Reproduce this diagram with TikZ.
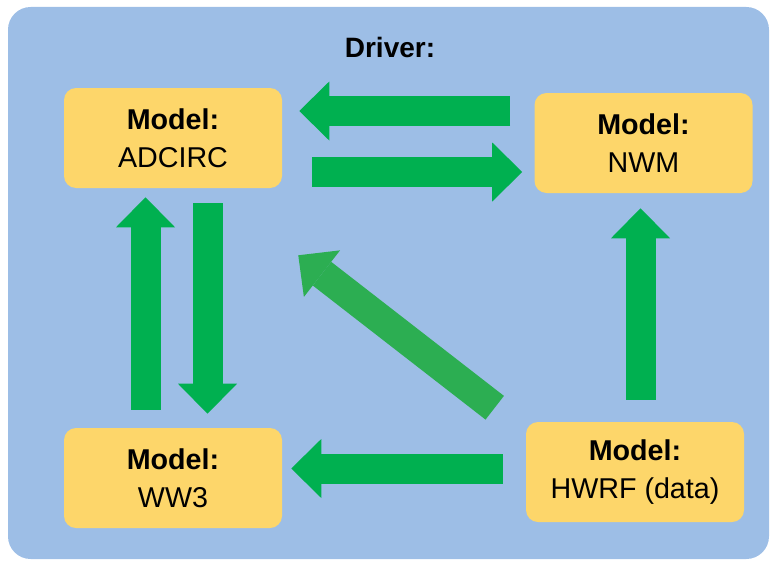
\documentclass[tikz,border=0pt]{standalone}
\usepackage{fontspec}
\setmainfont{Liberation Sans}
\usetikzlibrary{arrows.meta, calc}
\definecolor{driverblue}{HTML}{9DBEE6}
\definecolor{modelyellow}{HTML}{FDD66A}
\definecolor{flowgreen}{HTML}{00B050}
\definecolor{forcegreen}{HTML}{2CAE52}
\tikzset{
    model/.style={rectangle, rounded corners=9pt, fill=modelyellow, align=center, minimum width=163.5pt, minimum height=75pt, inner sep=0pt, font=\fontsize{21.5}{28.5}\selectfont},
    flow/.style={draw=flowgreen, line width=22.5pt, -{Triangle[length=22.5pt, width=44.25pt, line width=0pt]}},
    force/.style={flow, draw=forcegreen}
}

\begin{document}
\begin{tikzpicture}[x=0.75pt, y=-0.75pt]
    \useasboundingbox (0,0) rectangle (770,560);
    % driver background
    \fill[driverblue, rounded corners=17pt] (8,7) rectangle (769,559);
    \node[font=\fontsize{21}{28.5}\selectfont\bfseries] (driver) at (390,47) {Driver:};

    % models
    \node[model] (adcirc) at (173,138) {\textbf{Model:}\\ADCIRC};
    \node[model] (nwm) at (643.5,143) {\textbf{Model:}\\NWM};
    \node[model] (ww3) at (173,478) {\textbf{Model:}\\WW3};
    \node[model] (hwrf) at (635,472) {\textbf{Model:}\\HWRF (data)};

    % couplings
    \draw[flow] ($(nwm.west)+(-24,-32)$) -- ($(adcirc.east)+(17,-27)$);
    \draw[flow] ($(adcirc.east)+(30,34)$) -- ($(nwm.west)+(-12,29)$);
    \draw[flow] ($(ww3.north)+(-27.5,-18)$) -- ($(adcirc.south)+(-27.5,9)$);
    \draw[flow] ($(adcirc.south)+(34.5,15)$) -- ($(ww3.north)+(34.5,-14)$);
    \draw[flow] ($(hwrf.north)+(5.5,-22)$) -- ($(nwm.south)+(-3,15)$);
    \draw[flow] ($(hwrf.west)+(-23,-3.5)$) -- ($(ww3.east)+(9,-9.5)$);
    \draw[force] ($(hwrf.north west)+(-31,-14)$) -- ($(adcirc.south east)+(16,67)$);
\end{tikzpicture}
\end{document}
